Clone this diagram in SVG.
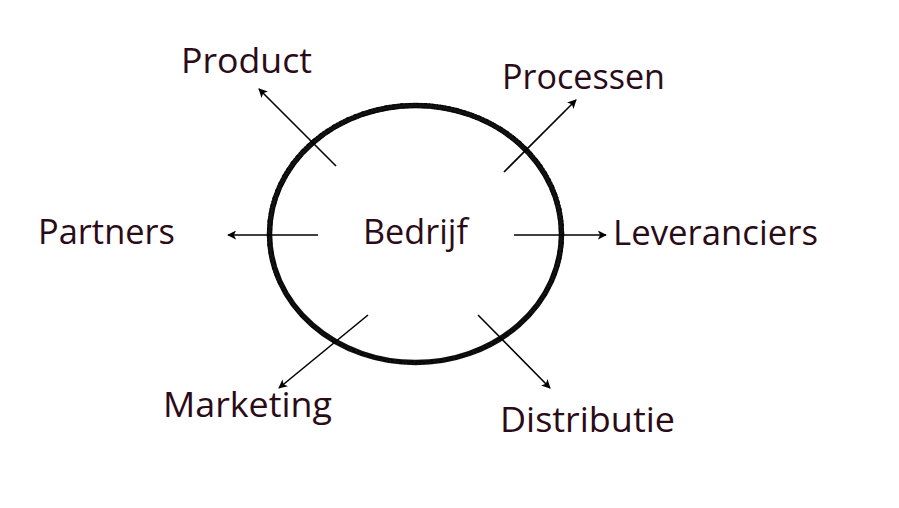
<svg xmlns="http://www.w3.org/2000/svg" width="899" height="508" viewBox="0 0 899 508">
<style>
.lbl{font-family:"Open Sans","Noto Sans",sans-serif;font-size:34px;fill:#2b0b17}
.c{stroke:#000;stroke-width:1.6;fill:none;marker-end:url(#ah)}
</style>
<defs>
<marker id="ah" viewBox="0 0 10 10" refX="9" refY="5" markerWidth="9" markerHeight="9" markerUnits="userSpaceOnUse" orient="auto">
<path d="M0,0 L10,5 L0,10 L2.5,5 Z" fill="#000"/>
</marker>
</defs>
<rect width="899" height="508" fill="#fff"/>
<g id="bedrijf">
<ellipse cx="415.5" cy="234" rx="146" ry="128.5" fill="none" stroke="#111" stroke-width="5.5"/>
<ellipse cx="415.5" cy="233.5" rx="148" ry="130" fill="none" stroke="#000" stroke-width="1.2" stroke-dasharray="3 2 1 2"/>
<ellipse cx="415.5" cy="234.5" rx="144" ry="127" fill="none" stroke="#000" stroke-width="1" stroke-dasharray="2 3 4 1"/>
<text class="lbl" x="363" y="244" textLength="105" lengthAdjust="spacingAndGlyphs">Bedrijf</text>
</g>
<g id="connectors">
<line class="c" x1="336" y1="166" x2="259" y2="89"/>
<line class="c" x1="504" y1="172" x2="576" y2="100"/>
<line class="c" x1="318" y1="235" x2="228" y2="235"/>
<line class="c" x1="514" y1="235" x2="606" y2="235"/>
<line class="c" x1="368" y1="315" x2="279" y2="388"/>
<line class="c" x1="478" y1="315" x2="550" y2="388"/>
</g>
<g id="product"><text class="lbl" x="181" y="73" textLength="131" lengthAdjust="spacingAndGlyphs">Product</text></g>
<g id="processen"><text class="lbl" x="502" y="89" textLength="163" lengthAdjust="spacingAndGlyphs">Processen</text></g>
<g id="partners"><text class="lbl" x="38" y="244" textLength="137" lengthAdjust="spacingAndGlyphs">Partners</text></g>
<g id="leveranciers"><text class="lbl" x="613" y="245" textLength="205" lengthAdjust="spacingAndGlyphs">Leveranciers</text></g>
<g id="marketing"><text class="lbl" x="163" y="417" textLength="169" lengthAdjust="spacingAndGlyphs">Marketing</text></g>
<g id="distributie"><text class="lbl" x="500" y="432" textLength="175" lengthAdjust="spacingAndGlyphs">Distributie</text></g>
</svg>
